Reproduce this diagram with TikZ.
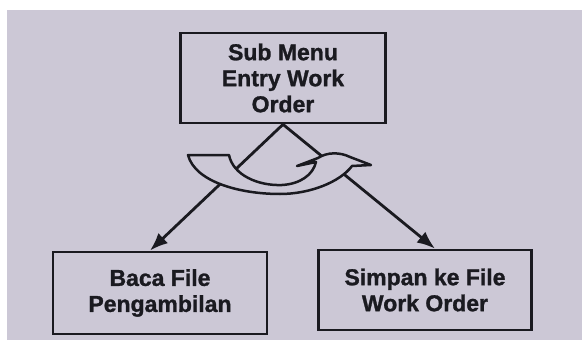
\documentclass[tikz,border=0pt]{standalone}
\usepackage{fontspec}
\setmainfont{Liberation Sans}
\newfontfamily\boxfont[FakeBold=1.2]{Liberation Sans Bold}
\usetikzlibrary{arrows.meta}
\definecolor{bgc}{RGB}{204,200,214}
\definecolor{ink}{RGB}{26,26,32}
\begin{document}
\begin{tikzpicture}[x=1pt,y=-1pt,
  box/.style={draw=ink, line width=2.8pt, inner sep=0pt, align=center, text=ink,
              font=\fontsize{23}{26}\selectfont\boxfont},
  conn/.style={draw=ink, line width=2.8pt, -{Latex[length=18pt,width=14pt]}},
  ribbon/.style={draw=ink, fill=bgc, line width=2.5pt, line join=round}]
\fill[white] (0,0) rectangle (582,340);
\fill[bgc] (7,10) rectangle (582,340);
\useasboundingbox (0,0) rectangle (582,340);
\node[box, minimum width=205pt, minimum height=90pt] (top) at (283,78) {Sub Menu\\Entry Work\\Order};
\node[box, minimum width=214pt, minimum height=82pt] (lb) at (160,293) {Baca File\\Pengambilan};
\node[box, minimum width=213pt, minimum height=80pt] (rb) at (425,290) {Simpan ke File\\Work Order};
\draw[conn] (top.south) -- ([xshift=-10pt]lb.north);
\draw[conn] (top.south) -- ([xshift=10pt]rb.north);
% iteration symbol
\draw[ribbon] (188,155) -- (229,155)
  .. controls (233,175) and (258,186) .. (282,185)
  .. controls (300,184) and (313,175) .. (316,162)
  -- (297,166) -- (318,158)
  .. controls (327,152) and (340,152) .. (350,157)
  -- (371,165) -- (352,166)
  .. controls (340,182) and (310,194) .. (280,194)
  .. controls (240,194) and (195,182) .. (188,155) -- cycle;
\end{tikzpicture}
\end{document}
